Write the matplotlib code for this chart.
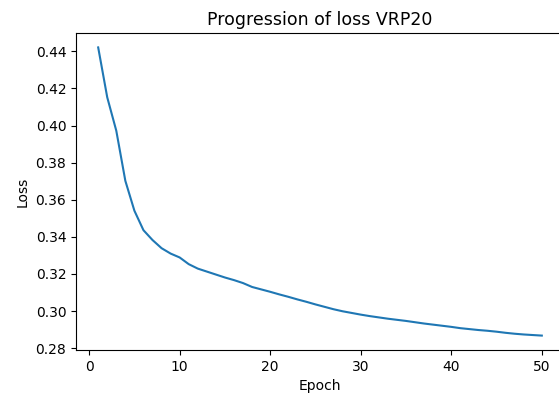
import numpy as np
import matplotlib
matplotlib.use('Agg')
import matplotlib.pyplot as plt

# Valores
epocas = list(range(1, 51))
perdida = [0.4421, 0.4152, 0.3972, 0.3702, 0.3541, 0.3436, 0.3383, 0.3339, 0.3310, 0.3289,
           0.3253, 0.3229, 0.3213, 0.3197, 0.3181, 0.3167, 0.3151, 0.3130, 0.3117, 0.3104,
           0.3090, 0.3077, 0.3063, 0.3050, 0.3036, 0.3023, 0.3010, 0.2999, 0.2990, 0.2981,
           0.2973, 0.2966, 0.2959, 0.2953, 0.2947, 0.2940, 0.2933, 0.2927, 0.2921, 0.2915,
           0.2908, 0.2903, 0.2898, 0.2894, 0.2889, 0.2883, 0.2878, 0.2874, 0.2871, 0.2868]

fig = plt.figure(figsize=(5.59, 3.97), dpi=100)
# el eje derecho queda recortado en la imagen original
ax = fig.add_axes([76 / 559, 47 / 397, 488 / 559, 317 / 397])
ax.plot(epocas, perdida, color='#1f77b4')
ax.set_title('Progression of loss VRP20', fontsize=12.5)
ax.set_xlabel('Epoch')
ax.set_ylabel('Loss')
fig.savefig('out.png', dpi=100)
